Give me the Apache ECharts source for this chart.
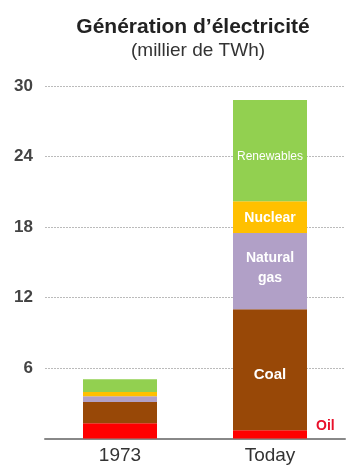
<!DOCTYPE html>
<html>
<head>
<meta charset="utf-8">
<script src="https://cdn.jsdelivr.net/npm/echarts@6/dist/echarts.min.js"></script>
<style>
  html, body { margin: 0; padding: 0; background: #fff; }
  #chart { width: 348px; height: 468px; }
</style>
</head>
<body>
<div id="chart"></div>
<script>
// Electricity generation by source, thousand TWh
const categories = ['1973', 'Today'];
const oil = [1.3, 0.7];
const coal = [1.8, 10.3];
const naturalGas = [0.5, 6.5];
const nuclear = [0.35, 2.7];
const renewables = [1.1, 8.6];
const yTicks = [0, 6, 12, 18, 24, 30];

const FONT = '"Liberation Sans", Arial, sans-serif';

// Only the second bar carries segment labels
function withLabel(values, label) {
  return values.map((v, i) => i === 1 ? { value: v, label: label } : { value: v, label: { show: false } });
}

const whiteLabel = (size, extra) => Object.assign({
  show: true,
  position: 'inside',
  color: '#fff',
  fontFamily: FONT,
  fontWeight: 'bold',
  fontSize: size
}, extra || {});

const chart = echarts.init(document.getElementById('chart'), null, { renderer: 'canvas' });

chart.setOption({
  animation: false,
  title: [
    {
      text: 'Génération d’électricité',
      left: 188,
      top: 12,
      textAlign: 'center',
      textStyle: { fontFamily: FONT, fontWeight: 'bold', fontSize: 21, color: '#222' }
    },
    {
      text: '(millier de TWh)',
      left: 193,
      top: 36,
      textAlign: 'center',
      textStyle: { fontFamily: FONT, fontWeight: 'normal', fontSize: 19, color: '#333' }
    }
  ],
  grid: { left: 45, right: 3, top: 86, bottom: 29.5 },
  xAxis: {
    type: 'category',
    data: categories,
    axisLine: { show: true, lineStyle: { color: '#888', width: 2 } },
    axisTick: { show: false },
    axisLabel: { fontFamily: FONT, fontSize: 19, color: '#333', margin: 8 }
  },
  yAxis: {
    type: 'value',
    min: yTicks[0],
    max: yTicks[yTicks.length - 1],
    interval: yTicks[1] - yTicks[0],
    axisLine: { show: false },
    axisTick: { show: false },
    axisLabel: {
      fontFamily: FONT, fontSize: 17, fontWeight: 'bold', color: '#444', margin: 12,
      formatter: v => v === 0 ? '' : String(v)
    },
    splitLine: { lineStyle: { color: '#bbb', type: [2, 1], width: 1 } }
  },
  series: [
    {
      name: 'Oil', type: 'bar', stack: 'gen', barWidth: 74, color: '#FF0000',
      data: withLabel(oil, {
        show: true, position: 'right', distance: 9, offset: [0, -8],
        color: '#E8102A', fontFamily: FONT, fontWeight: 'bold', fontSize: 14,
        formatter: 'Oil'
      })
    },
    {
      name: 'Coal', type: 'bar', stack: 'gen', barWidth: 74, color: '#984807',
      data: withLabel(coal, whiteLabel(15, { formatter: 'Coal', offset: [0, 5] }))
    },
    {
      name: 'Natural gas', type: 'bar', stack: 'gen', barWidth: 74, color: '#B1A0C7',
      data: withLabel(naturalGas, whiteLabel(14, { formatter: 'Natural\ngas', lineHeight: 20, offset: [0, -3] }))
    },
    {
      name: 'Nuclear', type: 'bar', stack: 'gen', barWidth: 74, color: '#FFC000',
      data: withLabel(nuclear, whiteLabel(14, { formatter: 'Nuclear', offset: [0, 1] }))
    },
    {
      name: 'Renewables', type: 'bar', stack: 'gen', barWidth: 74, color: '#92D050',
      data: withLabel(renewables, whiteLabel(12, { formatter: 'Renewables', fontWeight: 'normal', offset: [0, 6] }))
    }
  ]
});
</script>
</body>
</html>
